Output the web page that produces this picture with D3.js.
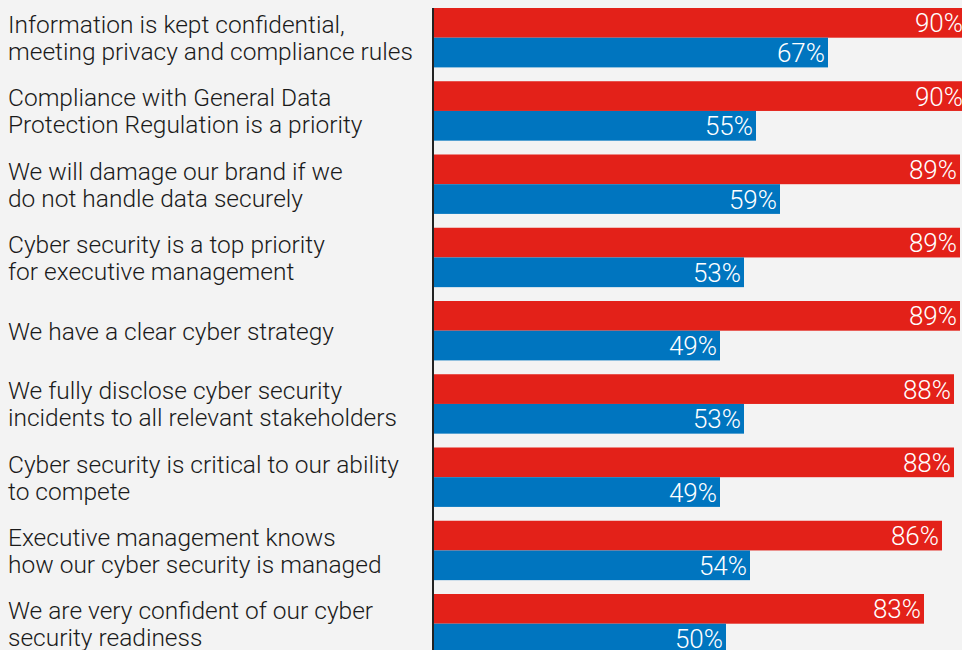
<!DOCTYPE html>
<html>
<head>
<meta charset="utf-8">
<script src="https://cdn.jsdelivr.net/npm/d3@7"></script>
<style>
  html, body { margin: 0; padding: 0; background: #f3f3f3; }
  svg { display: block; font-family: Roboto, "Liberation Sans", sans-serif; }
</style>
</head>
<body>
<div id="chart"></div>
<script>
const categories = [
  ["Information is kept confidential,", "meeting privacy and compliance rules"],
  ["Compliance with General Data", "Protection Regulation is a priority"],
  ["We will damage our brand if we", "do not handle data securely"],
  ["Cyber security is a top priority", "for executive management"],
  ["We have a clear cyber strategy"],
  ["We fully disclose cyber security", "incidents to all relevant stakeholders"],
  ["Cyber security is critical to our ability", "to compete"],
  ["Executive management knows", "how our cyber security is managed"],
  ["We are very confident of our cyber", "security readiness"]
];
const redValues = [90, 90, 89, 89, 89, 88, 88, 86, 83];
const blueValues = [67, 55, 59, 53, 49, 53, 49, 54, 50];

const svgWidth = 962, svgHeight = 650;
const axisX = 433;
const step = 73.25, band = 59.4;

const svg = d3.select('#chart').append('svg')
  .attr('width', svgWidth)
  .attr('height', svgHeight);

svg.append('rect')
  .attr('width', svgWidth).attr('height', svgHeight)
  .attr('fill', '#f3f3f3');

const xScale = d3.scaleLinear()
  .domain([0, 100])
  .range([426, 1026]);

const yScale = d3.scaleBand()
  .domain(d3.range(categories.length))
  .range([8, 8 + step * (categories.length - 1) + band])
  .paddingInner((step - band) / step)
  .paddingOuter(0)
  .align(0);

const barH = yScale.bandwidth() / 2;

const groups = svg.selectAll('g.group')
  .data(categories.map((c, i) => ({ label: c, red: redValues[i], blue: blueValues[i], i })))
  .enter()
  .append('g')
  .attr('class', 'group')
  .attr('transform', d => `translate(0, ${yScale(d.i)})`);

const series = [
  { key: 'red', color: '#e32119', off: 0 },
  { key: 'blue', color: '#0075bf', off: 1 }
];

series.forEach(s => {
  groups.append('rect')
    .attr('x', axisX + 1)
    .attr('y', s.off * barH)
    .attr('width', d => xScale(d[s.key]) - axisX - 1)
    .attr('height', barH)
    .attr('fill', s.color);

  groups.append('text')
    .attr('x', d => xScale(d[s.key]) - 3)
    .attr('y', s.off * barH + barH / 2)
    .attr('dy', '0.37em')
    .attr('text-anchor', 'end')
    .attr('fill', '#fff')
    .attr('font-size', 26)
    .attr('font-weight', 300)
    .text(d => d[s.key] + '%');
});

// category labels
groups.append('text')
  .attr('y', d => yScale.bandwidth() / 2 - (d.label.length - 1) * 13.5)
  .attr('font-size', 24.5)
  .attr('font-weight', 300)
  .attr('fill', '#1a1a1a')
  .selectAll('tspan')
  .data(d => d.label)
  .enter()
  .append('tspan')
  .attr('x', 8)
  .attr('dy', (d, i) => i === 0 ? '0.36em' : 27)
  .text(d => d);

// vertical axis line
svg.append('line')
  .attr('x1', axisX).attr('x2', axisX)
  .attr('y1', 8).attr('y2', svgHeight)
  .attr('stroke', '#222')
  .attr('stroke-width', 2);
</script>
</body>
</html>
